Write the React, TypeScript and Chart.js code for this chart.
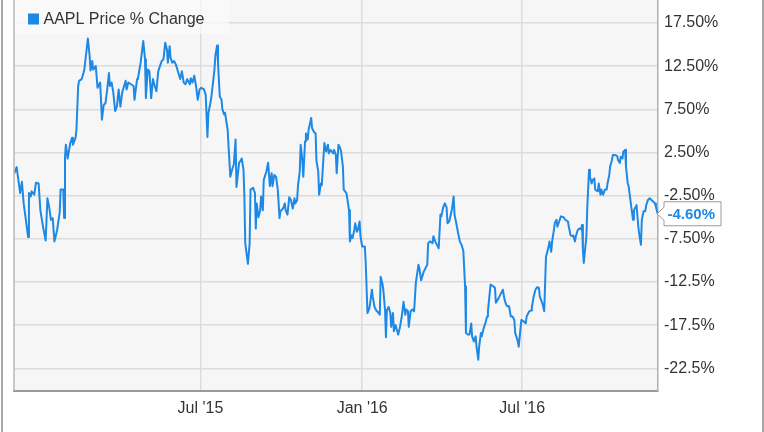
import React, { useEffect, useRef } from "react";
import { Chart, registerables } from "chart.js";

Chart.register(...registerables);

// ---- Data (x = days since 1 Dec 2014, y = % change) ----
const seriesLabel = "AAPL Price % Change";

const dayOffsets = [
  0, 3, 7, 9, 11, 14, 16, 17, 19, 20, 23, 25, 28, 30, 33, 36, 38, 40, 42, 44, 46, 49, 52, 53, 56, 57, 58, 59, 61, 64,
  66, 67, 70, 71, 73, 74, 77, 79, 80, 82, 84, 86, 87, 89, 90, 93, 95, 96, 98, 100, 102, 104, 106, 108, 109, 111, 113,
  115, 117, 119, 121, 123, 124, 127, 128, 130, 133,
  136, 137, 140, 141, 144, 147, 149, 150, 152, 154, 156, 158, 160, 162, 164, 166, 168, 170, 172, 174, 175, 177, 178,
  180, 182, 184, 187, 189, 191, 193, 195, 197, 200, 201, 203, 205, 207, 209, 211, 213, 216, 218, 220, 221, 224, 225,
  228, 229, 231, 232, 234, 236, 237, 239, 240, 243, 244, 246, 248, 250, 252, 253, 256, 258, 259, 261, 262, 263, 265,
  266, 268, 269, 272, 274, 275, 276, 278,
  280, 281, 283, 284, 287, 289, 291, 293, 294, 296, 298, 300, 302, 303, 306, 308, 309, 311, 313, 315, 317, 319, 320,
  322, 323, 325, 326, 328, 329, 331, 332, 334, 335, 338, 339, 341, 343, 344, 346, 347, 349, 350, 352, 353, 355, 357,
  358, 360, 363, 364, 366, 367, 369, 371, 372, 374, 375, 378, 379, 381, 382, 384, 385, 387, 388, 390, 391, 393, 394,
  396, 399, 400, 402, 404, 405, 407, 408, 410, 412, 414, 416, 417, 419, 420, 422, 423, 424, 426,
  428, 429, 431, 432, 434, 435, 437, 439, 441, 443, 445, 446, 448, 449, 451, 453, 455, 457, 458, 460, 461, 463, 466,
  468, 470, 471, 473, 476, 477, 479, 481, 483, 485, 486, 488, 490, 492, 493, 495, 498, 500, 501, 503, 505, 507, 509,
  511, 513, 514, 516, 518, 520, 521, 523, 525, 526, 528, 529, 531, 532, 534, 536, 538, 539, 541, 542, 545, 547, 548,
  551, 553, 556, 558, 560, 561, 563, 565, 567, 569, 570, 573, 574,
  577, 580, 582, 583, 586, 588, 589, 591, 593, 595, 597, 598, 601, 603, 605, 606, 608, 609, 611, 612, 614, 615, 617,
  618, 620, 622, 625, 627, 630, 631, 633, 635, 636, 638, 639, 641, 643, 645, 646, 647, 648, 649, 651, 652, 654, 655,
  657, 658, 660, 661, 664, 665, 667, 668, 670, 672, 674, 675, 677, 678, 680, 681, 683, 686, 687, 689, 690, 692, 693,
  695, 696, 698, 699, 701, 702, 704, 705, 707, 708, 710, 711, 713, 714, 716, 718, 719, 721, 723, 725, 727, 729, 730,
  732,
];

const pctChange = [
  0, 0.8, -2.2, -0.9, -3.4, -5.7, -7.3, -2.2, -2.6, -2.0, -2.4, -1.0, -1.1, -4.2, -6.1, -7.7, -2.8, -3.8, -5.3, -5.1,
  -7.8, -6.5, -4.4, -1.8, -1.8, -5.1, 2.0, 3.4, 1.8, 3.6,
  4.2, 3.4, 4.2, 5.1, 10.2, 10.8, 11.0, 11.7, 12.1, 13.9, 15.7, 13.7, 12.0, 13.1, 12.1, 12.5, 10.0, 10.2, 10.6, 6.3,
  8.0, 8.2, 9.8, 11.7, 10.2, 10.6, 9.4,
  7.3, 7.8, 9.8, 7.8, 9.4, 9.8, 10.8, 9.8, 10.6, 10.4,
  10.2, 8.6, 11.0, 11.1, 12.9, 15.4, 13.3, 8.8, 12.1, 11.9, 8.8, 11.0, 10.2, 9.6, 11.9, 12.5, 13.1, 13.3, 15.2, 14.4,
  12.9, 14.8, 13.5,
  12.9, 13.1, 12.7, 11.7, 11.0, 11.9, 10.6, 10.4, 11.0, 10.4, 11.1, 10.6, 11.4, 10.2, 8.6, 9.8, 10.0, 9.8, 9.2, 4.3,
  7.0, 8.6, 9.4,
  12.1, 13.7, 14.9, 12.9, 9.0, 8.6, 7.5, 6.9, 7.1, 5.1, 3.2, -0.3, 0.5, 1.1, 4.0, -1.5, 1.3, 1.6, 1.8, 0.5, -2.6,
  -8.0, -9.6,
  -10.4, -8.0, -1.8, -1.6, -2.2, -6.3, -3.4, -5.0,
  -4.2, -2.6, -4.2, -0.7, 0.3, 1.3, -1.4, 0.1, -1.4, -0.1, -0.3, -1.8, -5.1, -4.3, -4.0, -3.4, -4.2, -4.7, -2.7,
  -3.0, -4.0, -2.8, -3.4,
  -3.0, -1.3, 0.3, 3.4, 1.5, -0.3, 3.8, 4.7, 4.0, 5.1, 6.5, 5.3, 4.9, 4.7, 1.5, 0.3, -2.4, -1.1, -1.3, 2.0, 3.6,
  2.6, 3.4,
  2.4, 2.8, 2.4, 2.8, 2.2, 0.1, 3.4, 3.0, 2.6, 0.9, -1.8, -2.2, -2.8, -4.2, -7.8, -7.1, -7.4, -6.5, -5.7, -6.7,
  -6.5, -5.5, -7.2,
  -8.4, -8.4, -10.3, -16.1, -15.6, -15.0, -13.4, -14.2, -15.4, -15.8, -16.0, -16.3, -11.9, -12.7, -13.4, -15.8,
  -18.9, -15.8, -15.4,
  -16.1, -17.7, -16.1, -18.2, -17.5, -17.9, -18.6, -17.7, -16.5, -14.8, -16.3, -15.7, -15.9, -17.7, -15.9, -15.7,
  -15.9, -12.6, -11.9, -10.5, -10.9, -12.3, -11.3,
  -10.9, -10.5, -8.0, -7.8, -8.0, -7.2, -7.8, -8.2, -8.6, -4.7, -4.9, -3.9, -3.4, -3.9, -5.7, -5.5, -4.1, -2.6,
  -4.7, -5.7, -6.8, -7.8, -8.2,
  -8.9, -13.0, -18.4, -18.6, -18.6, -17.3, -18.8, -19.4, -18.8, -20.0, -21.5, -20.0, -18.4, -18.8, -17.9, -17.3,
  -16.5, -15.9, -13.8, -12.8, -13.0, -13.2, -14.9,
  -14.4, -14.0, -13.4, -14.6, -15.2, -15.3, -15.3, -16.5, -16.5, -16.9, -18.4, -19.4, -20.0,
  -16.9, -17.1, -17.3, -16.5, -15.9, -15.8, -15.4, -14.2, -13.4, -13.1, -13.2, -14.2, -15.0, -15.9, -9.6, -9.2,
  -8.4, -7.8, -9.0, -7.8, -6.5, -5.7, -5.3,
  -6.1, -5.5, -4.9, -5.0, -5.3, -5.5, -6.1, -7.1, -7.2, -7.1, -7.8, -7.2, -6.5, -6.3, -6.4, -5.9, -8.8, -10.3,
  -9.2, -7.2, -3.8, 0.5, -0.3,
  -1.1, -0.7, -0.5, -1.8, -2.0, -1.1, -2.4, -1.8, -2.4, -1.8, -1.8, -1.1, -0.1, 0.9, 1.6, 2.2, 2.2, 2.1, 1.6, 1.3,
  2.0, 1.8, 2.6,
  2.8, 0.9, -1.1, -1.4, -3.0, -3.8, -5.3, -4.2, -3.8, -3.6, -6.1, -6.9, -8.2, -5.3, -4.3, -4.3, -3.6, -3.0, -2.8,
  -3.0, -3.2, -3.4, -3.8,
  -4.6,
];

const xTickDays = [212, 396, 578];
const xTickLabels = ["Jul '15", "Jan '16", "Jul '16"];

const yTickValues = [-22.5, -17.5, -12.5, -7.5, -2.5, 2.5, 7.5, 12.5, 17.5];
const yTickLabels = ["-22.5%", "-17.5%", "-12.5%", "-7.50%", "-2.50%", "2.50%", "7.50%", "12.50%", "17.50%"];

const X_MIN = 0;
const X_MAX = 732.4;
const Y_MIN = -25.13;
const Y_MAX = 20.16;

const LINE_COLOR = "#1e88e5";
const TEXT_COLOR = "#333333";
const FONT = "'Liberation Sans', Arial, sans-serif";

const decorPlugin = {
  id: "decor",
  beforeDraw(chart: any) {
    const { ctx, chartArea: a } = chart;
    ctx.save();
    ctx.fillStyle = "#ffffff";
    ctx.fillRect(0, 0, chart.width, chart.height);
    ctx.fillStyle = "#f6f6f6";
    ctx.fillRect(a.left, a.top, a.right - a.left, a.bottom - a.top);
    ctx.restore();
  },
  beforeDatasetsDraw(chart: any) {
    const { ctx, chartArea: a } = chart;
    ctx.save();
    ctx.fillStyle = "rgba(249,249,249,0.75)";
    ctx.fillRect(a.left, a.top, 215, 34);
    ctx.restore();
  },
  afterDraw(chart: any) {
    const { ctx, chartArea: a } = chart;
    ctx.save();
    // outer frame
    ctx.strokeStyle = "#a8a8a8";
    ctx.lineWidth = 2;
    ctx.beginPath();
    ctx.moveTo(2, 0);
    ctx.lineTo(2, chart.height);
    ctx.moveTo(chart.width - 1, 0);
    ctx.lineTo(chart.width - 1, chart.height);
    ctx.stroke();
    // plot left border
    ctx.strokeStyle = "#b8b8b8";
    ctx.lineWidth = 1.5;
    ctx.beginPath();
    ctx.moveTo(a.left, a.top);
    ctx.lineTo(a.left, a.bottom);
    ctx.stroke();

    // legend
    ctx.fillStyle = LINE_COLOR;
    ctx.fillRect(a.left + 14, a.top + 13.5, 11, 11);
    ctx.fillStyle = TEXT_COLOR;
    ctx.font = `16px ${FONT}`;
    ctx.textBaseline = "alphabetic";
    ctx.textAlign = "left";
    ctx.fillText(seriesLabel, a.left + 29.5, a.top + 24);

    // last-value callout
    const last = pctChange[pctChange.length - 1];
    const yPix = chart.scales.y.getPixelForValue(last);
    const bl = a.right + 6;
    const br = a.right + 63;
    const bt = yPix - 12;
    const bb = yPix + 12;
    ctx.beginPath();
    ctx.moveTo(bl, bt);
    ctx.lineTo(br, bt);
    ctx.lineTo(br, bb);
    ctx.lineTo(bl, bb);
    ctx.lineTo(bl, yPix + 6.5);
    ctx.lineTo(a.right - 1, yPix);
    ctx.lineTo(bl, yPix - 6.5);
    ctx.closePath();
    ctx.fillStyle = "#ffffff";
    ctx.fill();
    ctx.strokeStyle = "#9a9a9a";
    ctx.lineWidth = 1;
    ctx.stroke();
    ctx.fillStyle = LINE_COLOR;
    ctx.font = `bold 15px ${FONT}`;
    ctx.textBaseline = "middle";
    ctx.fillText(`${last.toFixed(2)}%`, bl + 3.5, yPix + 1);
    ctx.restore();
  },
};

export default function App() {
  const canvasRef = useRef<HTMLCanvasElement | null>(null);

  useEffect(() => {
    if (!canvasRef.current) return;
    Chart.defaults.font.family = FONT;
    const points = dayOffsets.map((d, i) => ({ x: d, y: pctChange[i] }));
    const chart = new Chart(canvasRef.current, {
      type: "line",
      data: {
        datasets: [
          {
            label: seriesLabel,
            data: points,
            borderColor: LINE_COLOR,
            backgroundColor: LINE_COLOR,
            borderWidth: 2,
            pointRadius: 0,
            tension: 0,
            borderJoinStyle: "round",
            fill: false,
          },
        ],
      },
      options: {
        responsive: false,
        animation: false,
        devicePixelRatio: 1,
        layout: { padding: { left: 14, top: 0, right: 0, bottom: 0 } },
        plugins: {
          legend: { display: false },
          tooltip: { enabled: false },
        },
        scales: {
          x: {
            type: "linear",
            min: X_MIN,
            max: X_MAX,
            grid: { color: "#dcdcdc", lineWidth: 1.5, drawTicks: false },
            border: { display: true, color: "#999999", width: 2 },
            ticks: {
              padding: 8,
              color: TEXT_COLOR,
              font: { size: 16, family: FONT },
              maxRotation: 0,
              autoSkip: false,
              callback: (_v: any, i: number) => xTickLabels[i],
            },
            afterBuildTicks: (s: any) => {
              s.ticks = xTickDays.map((v) => ({ value: v }));
            },
            afterFit: (s: any) => {
              s.height = 41;
              s.paddingLeft = 0;
              s.paddingRight = 0;
            },
          },
          y: {
            type: "linear",
            position: "right",
            min: Y_MIN,
            max: Y_MAX,
            grid: { color: "#dcdcdc", lineWidth: 1.5, drawTicks: false },
            border: { display: true, color: "#b0b0b0", width: 1.5 },
            ticks: {
              padding: 6,
              color: TEXT_COLOR,
              font: { size: 16, family: FONT },
              callback: (v: any) => {
                const idx = yTickValues.findIndex((t) => Math.abs(t - Number(v)) < 1e-6);
                return idx >= 0 ? yTickLabels[idx] : "";
              },
            },
            afterBuildTicks: (s: any) => {
              s.ticks = yTickValues.map((v) => ({ value: v }));
            },
            afterFit: (s: any) => {
              s.width = 106;
              s.paddingTop = 0;
              s.paddingBottom = 0;
            },
          },
        },
      },
      plugins: [decorPlugin],
    });
    return () => chart.destroy();
  }, []);

  return (
    <div style={{ position: "absolute", left: 0, top: 0, width: 764, height: 432 }}>
      <canvas ref={canvasRef} width={764} height={432} style={{ width: 764, height: 432, display: "block" }} />
    </div>
  );
}
